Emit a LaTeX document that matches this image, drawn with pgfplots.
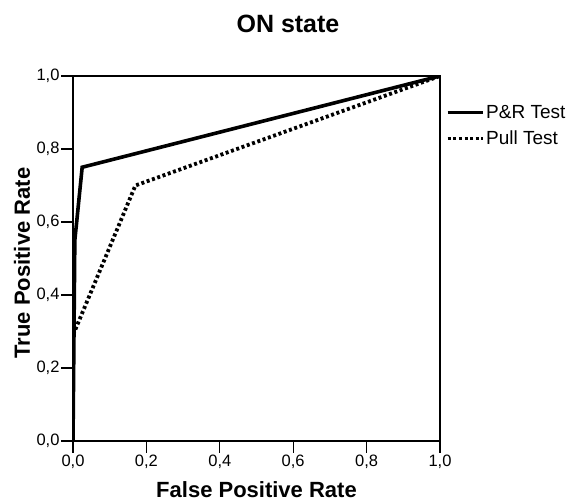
\documentclass[border=0pt]{standalone}
\usepackage{fontspec}
\setmainfont{Liberation Sans}
\usepackage{pgfplots}
\pgfplotsset{compat=1.18}
\begin{document}
\begin{tikzpicture}
\begin{axis}[
  scale only axis,
  width=367pt, height=365pt,
  xmin=0, xmax=1, ymin=0, ymax=1,
  xtick={0,0.2,0.4,0.6,0.8,1},
  ytick={0,0.2,0.4,0.6,0.8,1},
  xtick pos=bottom, ytick pos=left,
  tick align=outside,
  major tick length=12pt,
  axis line style={line width=1.8pt},
  every tick/.style={black, line width=1.2pt},
  tick label style={font=\fontsize{16.5}{19}\selectfont},
  xticklabel style={yshift=2pt},
  yticklabel style={xshift=2pt},
  /pgf/number format/.cd, use comma, fixed, fixed zerofill, precision=1, assume math mode=true,
  /pgfplots/.cd,
  legend style={at={(axis description cs:1,1)}, anchor=north west, xshift=6pt, yshift=-27pt,
    draw=none, fill=none, font=\fontsize{19}{21}\selectfont,
    row sep=7pt, inner sep=0pt,
    /tikz/every even column/.append style={column sep=3pt}},
  legend cell align=left,
]
\addplot[black, line width=3.6pt, line join=miter,
  legend image code/.code={\draw[black, line width=2.2pt] (0pt,0pt) -- (35pt,0pt);}]
  coordinates {(0,0) (0.005,0.55) (0.025,0.75) (1,1)};
\addlegendentry{P\&R Test}
\addplot[black, line width=3.8pt, dash pattern=on 3pt off 2.6pt,
  legend image code/.code={\draw[black, line width=3pt, dash pattern=on 3pt off 2.6pt] (0pt,0pt) -- (35pt,0pt);}]
  coordinates {(0,0) (0,0.29) (0.17,0.70) (1,1)};
\addlegendentry{Pull Test}
\end{axis}
\node[anchor=base, font=\bfseries\fontsize{25}{28}\selectfont] at (215pt,408pt) {ON state};
\node[anchor=base, font=\bfseries\fontsize{22}{24}\selectfont] at (183.5pt,-56pt) {False Positive Rate};
\node[anchor=base, rotate=90, font=\bfseries\fontsize{22}{24}\selectfont] at (-43pt,178pt) {True Positive Rate};
\path[use as bounding box] (-73pt,-58pt) rectangle (503pt,441pt);
\end{tikzpicture}
\end{document}
